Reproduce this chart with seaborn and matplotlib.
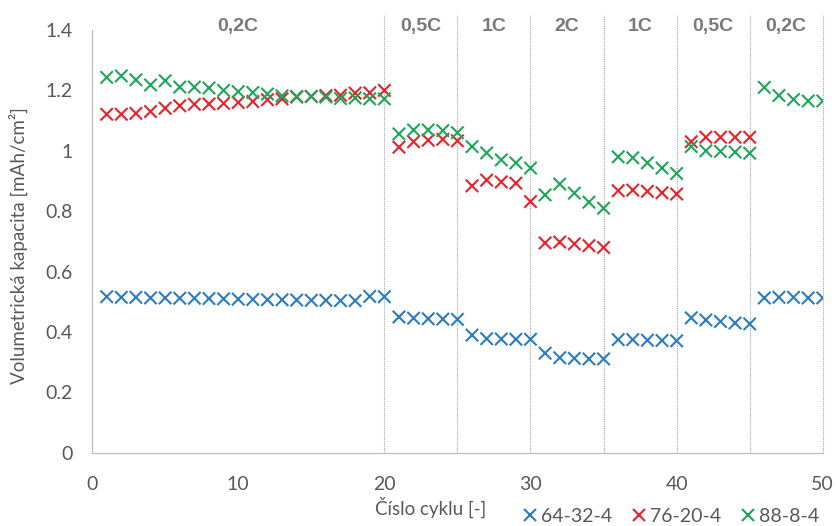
import numpy as np
import pandas as pd
import matplotlib
matplotlib.use("Agg")
import matplotlib.pyplot as plt
import seaborn as sns

# data (cycle 1..50)
cycles = list(range(1, 51))
s_64_32_4 = [0.517, 0.515, 0.515, 0.513, 0.513, 0.512, 0.512, 0.511, 0.510, 0.509,
             0.508, 0.507, 0.507, 0.506, 0.505, 0.505, 0.504, 0.504, 0.518, 0.517,
             0.450, 0.446, 0.444, 0.443, 0.442,
             0.390, 0.378, 0.377, 0.376, 0.376,
             0.330, 0.315, 0.313, 0.311, 0.311,
             0.375, 0.375, 0.373, 0.372, 0.371,
             0.447, 0.440, 0.435, 0.430, 0.427,
             0.513, 0.515, 0.515, 0.513, 0.513]
s_76_20_4 = [1.121, 1.121, 1.124, 1.130, 1.141, 1.149, 1.154, 1.155, 1.157, 1.160,
             1.163, 1.169, 1.172, 1.178, 1.180, 1.183, 1.184, 1.191, 1.192, 1.200,
             1.012, 1.030, 1.035, 1.038, 1.033,
             0.884, 0.903, 0.897, 0.893, 0.832,
             0.695, 0.698, 0.692, 0.686, 0.680,
             0.868, 0.870, 0.866, 0.861, 0.857,
             1.030, 1.045, 1.045, 1.045, 1.045,
             np.nan, np.nan, np.nan, np.nan, np.nan]
s_88_8_4 = [1.243, 1.248, 1.235, 1.218, 1.232, 1.211, 1.211, 1.208, 1.200, 1.196,
            1.193, 1.188, 1.182, 1.180, 1.180, 1.178, 1.173, 1.175, 1.172, 1.172,
            1.056, 1.069, 1.069, 1.067, 1.060,
            1.014, 0.993, 0.970, 0.960, 0.943,
            0.854, 0.890, 0.860, 0.830, 0.810,
            0.980, 0.977, 0.960, 0.943, 0.925,
            1.014, 1.000, 0.998, 0.996, 0.992,
            1.210, 1.183, 1.170, 1.165, 1.165]
series_names = ["64-32-4", "76-20-4", "88-8-4"]
series_colors = ["#2b7cc0", "#e8212b", "#1fa65a"]

# C-rate blocks
block_edges = [20, 25, 30, 35, 40, 45, 50]
block_labels = ["0,2C", "0,5C", "1C", "2C", "1C", "0,5C", "0,2C"]
block_centers = [10, 22.5, 27.5, 32.5, 37.5, 42.5, 47.5]

df = pd.DataFrame({
    "cyklus": cycles * 3,
    "kapacita": s_64_32_4 + s_76_20_4 + s_88_8_4,
    "vzorek": sum([[n] * len(cycles) for n in series_names], []),
}).dropna()

sns.set_style("white")
plt.rcParams["font.family"] = ["Lato", "DejaVu Sans"]
text_gray = "#595959"

fig = plt.figure(figsize=(8.37, 5.26), dpi=100)
ax = fig.add_axes([0.110, 0.139, 0.873, 0.804])

sns.scatterplot(data=df, x="cyklus", y="kapacita", hue="vzorek",
                palette=dict(zip(series_names, series_colors)),
                marker="x", s=80, linewidth=1.5, ax=ax, legend=False)

ax.set_xlim(0, 50)
ax.set_ylim(0, 1.4)

# dotted separators between blocks
for e in block_edges:
    ax.plot([e, e], [0, 1.45], color="#a6a6a6", lw=0.8, ls=(0, (1, 1)),
            clip_on=False, zorder=0)
for c, lab in zip(block_centers, block_labels):
    ax.text(c, 1.41, lab, ha="center", va="center", fontsize=14,
            fontweight="bold", family=["Liberation Sans", "DejaVu Sans"],
            color="#7a7a7a")

ax.set_xticks(range(0, 51, 5))
ax.set_xticklabels([str(v) if v % 10 == 0 else "" for v in range(0, 51, 5)])
yt = [0, 0.2, 0.4, 0.6, 0.8, 1.0, 1.2, 1.4]
ax.set_yticks(yt)
ax.set_yticklabels(["0", "0.2", "0.4", "0.6", "0.8", "1", "1.2", "1.4"])
ax.tick_params(axis="x", direction="in", length=4, width=0.8, color="#bfbfbf",
               labelsize=14, labelcolor=text_gray, pad=17)
ax.tick_params(axis="y", length=0, labelsize=14, labelcolor=text_gray, pad=14)

for side in ["top", "right"]:
    ax.spines[side].set_visible(False)
for side in ["left", "bottom"]:
    ax.spines[side].set_color("#bfbfbf")
    ax.spines[side].set_linewidth(0.9)

ax.set_xlabel("Číslo cyklu [-]", fontsize=13.5, color=text_gray)
ax.xaxis.set_label_coords(0.464, -0.104)
ax.set_ylabel("Volumetrická kapacita [mAh/cm²]", fontsize=13.5, color=text_gray)
ax.yaxis.set_label_coords(-0.087, 0.49)

handles = [plt.Line2D([], [], ls="", marker="x", color=c, markersize=8, mew=1.5)
           for c in series_colors]
fig.legend(handles, series_names, loc="center", bbox_to_anchor=(0.80, 0.018),
           ncol=3, frameon=False, fontsize=14, handletextpad=0.05,
           columnspacing=0.9, handlelength=1.0, labelcolor=text_gray)

fig.savefig("out.png", dpi=100)
